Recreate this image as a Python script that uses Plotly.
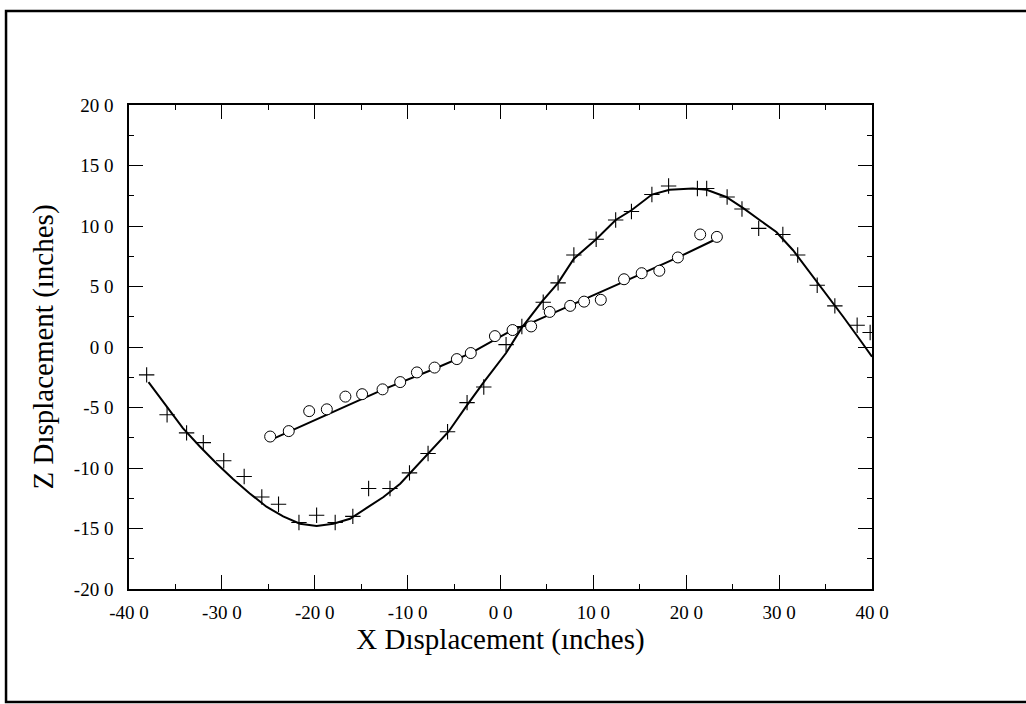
import plotly.graph_objects as go

# Measured data (+ markers)
cross_x = [-38.1, -35.9, -33.8, -32.0, -29.8, -27.6, -25.7, -23.9, -21.7, -19.8,
           -17.8, -15.9, -14.2, -11.9, -9.8, -7.8, -5.7, -3.6, -1.8, 0.6,
           2.3, 4.6, 6.2, 7.9, 10.3, 12.4, 14.1, 16.3, 18.1, 21.2,
           22.2, 24.4, 26.0, 27.8, 30.4, 32.0, 34.1, 36.0, 38.4, 39.8]
cross_y = [-2.3, -5.6, -7.1, -7.9, -9.4, -10.7, -12.4, -13.0, -14.5, -13.9,
           -14.5, -14.0, -11.7, -11.7, -10.4, -8.8, -7.0, -4.6, -3.3, 0.2,
           1.7, 3.7, 5.3, 7.6, 8.9, 10.5, 11.2, 12.6, 13.3, 13.1,
           13.1, 12.4, 11.4, 9.8, 9.3, 7.6, 5.1, 3.4, 1.8, 1.2]

# Fitted curve through + data
curve_x = [-37.9, -35.9, -34.2, -32.4, -30.6, -28.8, -27.0, -25.2, -23.4, -21.6,
           -19.8, -18.0, -16.2, -14.4, -12.6, -10.8, -7.8, -5.6, -3.6, -1.8,
           0.6, 2.3, 4.5, 6.2, 7.9, 10.3, 12.4, 14.1, 16.3, 18.2,
           20.7, 22.2, 24.3, 26.1, 27.9, 29.7, 31.5, 33.3, 35.1, 36.9,
           38.7, 40.0]
curve_y = [-2.9, -4.9, -6.7, -8.2, -9.6, -10.9, -12.1, -13.2, -14.0, -14.6,
           -14.8, -14.6, -14.2, -13.3, -12.4, -11.3, -8.8, -7.0, -4.8, -2.9,
           -0.5, 1.6, 3.8, 5.3, 7.3, 8.9, 10.5, 11.3, 12.6, 13.0,
           13.1, 13.0, 12.4, 11.5, 10.5, 9.5, 8.0, 6.2, 4.4, 2.5,
           0.6, -0.8]

# Measured data (o markers)
circ_x = [-24.8, -22.8, -20.6, -18.7, -16.7, -14.9, -12.7, -10.8, -9.0, -7.1,
          -4.7, -3.2, -0.6, 1.3, 3.3, 5.3, 7.5, 9.0, 10.8, 13.3,
          15.2, 17.1, 19.1, 21.5, 23.3]
circ_y = [-7.4, -6.95, -5.3, -5.15, -4.1, -3.9, -3.5, -2.9, -2.1, -1.7,
          -1.0, -0.5, 0.9, 1.4, 1.7, 2.9, 3.4, 3.75, 3.9, 5.6,
          6.1, 6.3, 7.4, 9.3, 9.1]

# Fitted line through o data
line_x = [-24.8, -19.0, -12.6, -7.1, -3.2, -0.6, 1.3, 3.3, 9.0, 13.3, 19.1, 22.9]
line_y = [-7.7, -5.7, -3.5, -1.8, -0.5, 0.6, 1.4, 2.0, 3.9, 5.4, 7.4, 8.8]

x_tickvals = [-40, -30, -20, -10, 0, 10, 20, 30, 40]
x_ticktext = ["-40 0", "-30 0", "-20 0", "-10 0", "0 0", "10 0", "20 0", "30 0", "40 0"]
y_tickvals = [-20, -15, -10, -5, 0, 5, 10, 15, 20]
y_ticktext = ["-20 0", "-15 0", "-10 0", "-5 0", "0 0", "5 0", "10 0", "15 0", "20 0"]

fig = go.Figure()
fig.add_trace(go.Scatter(x=curve_x, y=curve_y, mode="lines",
                         line=dict(color="black", width=2), showlegend=False))
fig.add_trace(go.Scatter(x=line_x, y=line_y, mode="lines",
                         line=dict(color="black", width=2), showlegend=False))
fig.add_trace(go.Scatter(x=cross_x, y=cross_y, mode="markers",
                         marker=dict(symbol="cross-thin-open", size=11,
                                     color="black", line=dict(color="black", width=1.1)),
                         showlegend=False))
fig.add_trace(go.Scatter(x=circ_x, y=circ_y, mode="markers",
                         marker=dict(symbol="circle", size=11, color="white",
                                     line=dict(color="black", width=1)),
                         showlegend=False))

serif = "Liberation Serif, Times New Roman, serif"
common = dict(showgrid=False, zeroline=False, showline=True, linecolor="black",
              linewidth=1.5, mirror="allticks", ticks="inside", ticklen=14,
              tickwidth=1, tickcolor="black",
              tickfont=dict(family=serif, size=19, color="black"))

fig.update_xaxes(range=[-40, 40], tickvals=x_tickvals, ticktext=x_ticktext,
                 minor=dict(ticks="inside", ticklen=5, dtick=5, tick0=0,
                            tickcolor="black", showgrid=False),
                 ticklabelstandoff=5,
                 title=dict(text="X Dısplacement (ınches)",
                            font=dict(family=serif, size=29, color="black"),
                            standoff=1),
                 **common)
fig.update_yaxes(range=[-20, 20], tickvals=y_tickvals, ticktext=y_ticktext,
                 minor=dict(ticks="inside", ticklen=5, dtick=2.5, tick0=0,
                            tickcolor="black", showgrid=False),
                 ticklabelstandoff=10,
                 title=dict(text="Z Dısplacement (ınches)",
                            font=dict(family=serif, size=29, color="black"),
                            standoff=12),
                 **common)

# outer frame of the figure page
fig.add_shape(type="rect", xref="paper", yref="paper",
              x0=-0.1655, x1=1.25, y0=-0.2335, y1=1.194,
              line=dict(color="black", width=2.5), fillcolor="rgba(0,0,0,0)")

fig.update_layout(width=1026, height=704, autosize=False,
                  margin=dict(l=129, r=154, t=105, b=115),
                  paper_bgcolor="white", plot_bgcolor="white")

fig.write_html("out.html")
